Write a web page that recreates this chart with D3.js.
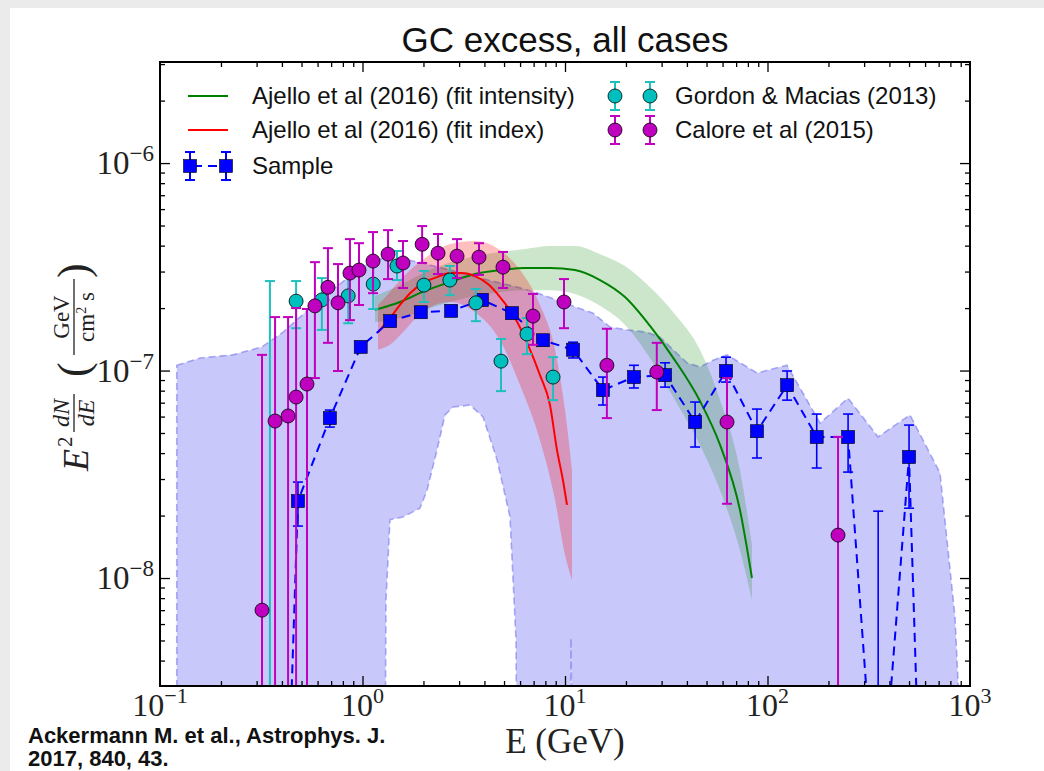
<!DOCTYPE html>
<html>
<head>
<meta charset="utf-8">
<script src="https://cdn.jsdelivr.net/npm/d3@7"></script>
<style>
  html, body { margin: 0; padding: 0; background: #ebebeb; }
  svg { display: block; }
</style>
</head>
<body>
<svg id="chart" width="1044" height="771"></svg>
<script>
// ---- Sample (Fermi-LAT GC excess) ----
const sampleE  = [0.34, 0.48, 0.69, 0.98, 1.37, 1.94, 2.74, 3.89, 5.47, 7.78, 10.96, 15.4, 21.9, 31.2, 43.9, 62.4, 88.7, 125, 175, 250, 352, 500, 703];
const sampleV  = [1e-12, 2.35e-8, 5.9e-8, 1.30e-7, 1.73e-7, 1.91e-7, 1.94e-7, 2.19e-7, 1.89e-7, 1.40e-7, 1.26e-7, 8.05e-8, 9.3e-8, 9.5e-8, 5.65e-8, 9.95e-8, 5.1e-8, 8.5e-8, 4.78e-8, 4.78e-8, 4.8e-10, 3.83e-8, 1e-12];
const sampleLo = [null, 1.78e-8, 5.34e-8, 1.24e-7, 1.65e-7, 1.83e-7, 1.86e-7, 2.09e-7, 1.80e-7, 1.33e-7, 1.15e-7, 6.82e-8, 8.24e-8, 8.32e-8, 4.28e-8, 8.8e-8, 3.79e-8, 7.2e-8, 3.39e-8, 3.24e-8, 1e-12, 2.17e-8, null];
const sampleHi = [null, 2.90e-8, 6.45e-8, 1.36e-7, 1.81e-7, 2.00e-7, 2.03e-7, 2.29e-7, 1.98e-7, 1.47e-7, 1.37e-7, 9.3e-8, 1.06e-7, 1.09e-7, 7.05e-8, 1.16e-7, 6.52e-8, 9.95e-8, 6.17e-8, 6.17e-8, 2.1e-8, 5.46e-8, null];

// ---- Calore et al (2015) ----
const caloreE  = [0.319, 0.370, 0.429, 0.470, 0.532, 0.582, 0.675, 0.757, 0.867, 0.961, 1.127, 1.337, 1.585, 1.97, 2.36, 2.93, 3.76, 4.94, 6.95, 9.89, 16.1, 28.4, 63.1, 223];
const caloreV  = [7.0e-9, 5.71e-8, 6.04e-8, 7.45e-8, 8.61e-8, 2.05e-7, 2.52e-7, 2.12e-7, 2.95e-7, 3.05e-7, 3.37e-7, 3.64e-7, 3.30e-7, 4.06e-7, 3.68e-7, 3.56e-7, 3.52e-7, 3.15e-7, 1.83e-7, 2.14e-7, 1.06e-7, 9.84e-8, 5.65e-8, 1.61e-8];
const caloreLo = [1e-10, 1e-10, 1e-10, 1e-10, 1e-10, 9.2e-8, 1.36e-7, 9.95e-8, 1.75e-7, 2.07e-7, 2.36e-7, 2.76e-7, 2.50e-7, 3.30e-7, 2.92e-7, 2.79e-7, 2.89e-7, 2.50e-7, 1.33e-7, 1.60e-7, 5.9e-8, 6.45e-8, 2.28e-8, 1e-10];
const caloreHi = [1.19e-7, 1.81e-7, 1.81e-7, 2.00e-7, 1.98e-7, 3.33e-7, 3.89e-7, 3.26e-7, 4.30e-7, 4.11e-7, 4.65e-7, 4.75e-7, 4.21e-7, 4.97e-7, 4.55e-7, 4.30e-7, 4.11e-7, 3.73e-7, 2.34e-7, 2.76e-7, 1.59e-7, 1.36e-7, 9.2e-8, 4.79e-8];

// ---- Gordon & Macias (2013) ----
const gordonE  = [0.349, 0.47, 0.63, 0.85, 1.13, 1.48, 2.01, 2.70, 3.63, 4.83, 6.49, 8.73];
const gordonV  = [1.5e-9, 2.16e-7, 2.19e-7, 2.29e-7, 2.61e-7, 3.19e-7, 2.58e-7, 2.73e-7, 2.12e-7, 1.11e-7, 1.50e-7, 9.3e-8];
const gordonLo = [1e-10, 1.60e-7, 1.57e-7, 1.69e-7, 1.98e-7, 2.73e-7, 2.14e-7, 2.31e-7, 1.73e-7, 7.96e-8, 1.20e-7, 7.2e-8];
const gordonHi = [2.70e-7, 2.70e-7, 2.79e-7, 2.85e-7, 3.33e-7, 3.77e-7, 3.02e-7, 3.19e-7, 2.47e-7, 1.42e-7, 1.79e-7, 1.16e-7];

// ---- Ajello et al (2016), fit intensity ----
const intensityE  = [1.153, 1.532, 2.035, 2.705, 3.594, 4.775, 6.345, 8.43, 11.2, 14.89, 19.78, 26.3, 34.9, 46.4, 58.3, 73.1, 83.8];
const intensityV  = [1.96e-7, 2.14e-7, 2.42e-7, 2.67e-7, 2.92e-7, 3.05e-7, 3.12e-7, 3.12e-7, 3.05e-7, 2.73e-7, 2.26e-7, 1.64e-7, 1.12e-7, 7.13e-8, 4.38e-8, 2.13e-8, 1.0e-8];
const intensityHi = [2.29e-7, 2.58e-7, 2.98e-7, 3.33e-7, 3.56e-7, 3.73e-7, 3.85e-7, 3.98e-7, 3.98e-7, 3.64e-7, 3.19e-7, 2.52e-7, 1.87e-7, 1.26e-7, 7.21e-8, 3.31e-8, 1.44e-8];
const intensityLo = [1.71e-7, 1.79e-7, 1.96e-7, 2.14e-7, 2.29e-7, 2.39e-7, 2.44e-7, 2.44e-7, 2.34e-7, 2.05e-7, 1.66e-7, 1.15e-7, 7.21e-8, 4.38e-8, 2.65e-8, 1.36e-8, 7.84e-9];

// ---- Ajello et al (2016), fit index ----
const indexE = [1.192, 1.367, 1.532, 1.717, 2.035, 2.333, 2.705, 3.100, 3.594, 4.166, 4.775, 5.664, 6.566, 7.524, 8.43, 9.13, 9.77, 10.23];
const indexV = [1.53e-7, 1.79e-7, 2.07e-7, 2.36e-7, 2.67e-7, 2.82e-7, 2.95e-7, 2.95e-7, 2.85e-7, 2.61e-7, 2.26e-7, 1.79e-7, 1.33e-7, 9.5e-8, 6.82e-8, 4.14e-8, 2.96e-8, 2.25e-8];
const indexBandE  = [1.192, 1.367, 1.532, 2.035, 2.705, 3.594, 4.775, 5.997, 7.524, 8.93, 10.0, 10.83];
const indexBandHi = [2.07e-7, 2.39e-7, 2.73e-7, 3.48e-7, 4.07e-7, 4.21e-7, 3.81e-7, 3.05e-7, 2.07e-7, 1.26e-7, 6.45e-8, 3.31e-8];
const indexBandLo = [1.26e-7, 1.33e-7, 1.48e-7, 1.96e-7, 2.14e-7, 1.91e-7, 1.40e-7, 8.51e-8, 4.62e-8, 2.38e-8, 1.29e-8, 9.77e-9];

// ---- Sample envelope (upper and lower edges) ----
const envUpE = [0.121, 0.158, 0.229, 0.319, 0.405, 0.491, 0.638, 0.820, 1.03, 1.26, 1.53, 1.97, 2.70, 3.80, 5.86, 7.36, 10.0, 13.75, 16.7, 20.2, 25.4, 29.4, 40.0, 46.4, 53.8, 63.1, 88.8, 124.8, 181.7, 249.8, 351.4, 505.5, 711, 770, 843, 923];
const envUpV = [1.06e-7, 1.15e-7, 1.19e-7, 1.30e-7, 1.53e-7, 1.81e-7, 2.26e-7, 2.73e-7, 3.22e-7, 3.48e-7, 3.48e-7, 3.30e-7, 3.05e-7, 2.79e-7, 2.52e-7, 2.36e-7, 2.11e-7, 1.89e-7, 1.62e-7, 1.57e-7, 1.53e-7, 1.45e-7, 1.09e-7, 1.04e-7, 1.12e-7, 1.19e-7, 9.73e-8, 1.06e-7, 5.58e-8, 7.36e-8, 4.79e-8, 6.11e-8, 3.21e-8, 1.52e-8, 6.48e-9, 1e-9];
const envLoE = [0.121, 1.277, 1.306, 1.367, 1.585, 1.923, 2.083, 2.333, 2.555, 2.798, 3.40, 3.94, 4.62, 5.35, 5.73, 5.86, 10.47, 10.7, 11.2, 923];
const envLoV = [1e-10, 1e-10, 7.84e-9, 1.91e-8, 1.97e-8, 2.17e-8, 2.65e-8, 4.14e-8, 6.11e-8, 6.67e-8, 6.82e-8, 5.97e-8, 3.71e-8, 1.97e-8, 5.02e-9, 1e-10, 1e-10, 5.14e-9, 1e-10, 1e-10];

// ---- Axes ----
const xMajor = [0.1, 1, 10, 100, 1000];
const xMajorExp = ["−1", "0", "1", "2", "3"];
const yMajor = [1e-8, 1e-7, 1e-6];
const yMajorExp = ["−8", "−7", "−6"];

const W = 1044, H = 771;
const plot = { left: 160, right: 970, top: 62, bottom: 686 };

const svg = d3.select("#chart");
svg.append("rect").attr("x", 10).attr("y", 8).attr("width", W - 10).attr("height", H - 8).attr("fill", "#ffffff");

const x = d3.scaleLog().domain([0.1, 1000]).range([plot.left, plot.right]);
const y = d3.scaleLog().domain([3.017e-9, 3.07e-6]).range([plot.bottom, plot.top]);

svg.append("defs").append("clipPath").attr("id", "plotArea")
  .append("rect").attr("x", plot.left).attr("y", plot.top)
  .attr("width", plot.right - plot.left).attr("height", plot.bottom - plot.top);

const g = svg.append("g").attr("clip-path", "url(#plotArea)");

const zip2 = (a, b) => a.map((d, i) => [d, b[i]]);

// envelope
const envPoly = zip2(envUpE, envUpV).concat(zip2(envLoE, envLoV).reverse());
g.append("path")
  .datum(envPoly)
  .attr("d", d3.line().x(d => x(d[0])).y(d => y(d[1])).curve(d3.curveLinearClosed))
  .attr("fill", "rgb(200,200,250)")
  .attr("stroke", "rgba(110,110,235,0.55)")
  .attr("stroke-width", 1.6)
  .attr("stroke-dasharray", "7,4");

// fit bands
const band = d3.area().x(d => x(d[0])).y0(d => y(d[1])).y1(d => y(d[2])).curve(d3.curveMonotoneX);
g.append("path")
  .datum(intensityE.map((e, i) => [e, intensityLo[i], intensityHi[i]]))
  .attr("d", band).attr("fill", "rgb(0,128,0)").attr("fill-opacity", 0.2);
g.append("path")
  .datum(indexBandE.map((e, i) => [e, indexBandLo[i], indexBandHi[i]]))
  .attr("d", band).attr("fill", "rgb(255,0,0)").attr("fill-opacity", 0.25);

const curve = d3.line().x(d => x(d[0])).y(d => y(d[1])).curve(d3.curveMonotoneX);
g.append("path").datum(zip2(intensityE, intensityV)).attr("d", curve)
  .attr("fill", "none").attr("stroke", "#008000").attr("stroke-width", 2);
g.append("path").datum(zip2(indexE, indexV)).attr("d", curve)
  .attr("fill", "none").attr("stroke", "#ff0000").attr("stroke-width", 2);

// error bar helper
function errorBars(E, lo, hi, color, width) {
  const rows = E.map((e, i) => ({ e, lo: lo[i], hi: hi[i] })).filter(d => d.lo !== null);
  const eb = g.append("g").attr("stroke", color).attr("stroke-width", width);
  eb.selectAll("line.v").data(rows).join("line")
    .attr("x1", d => x(d.e)).attr("x2", d => x(d.e))
    .attr("y1", d => y(d.lo)).attr("y2", d => y(d.hi));
  const caps = rows.flatMap(d => [[d.e, d.lo], [d.e, d.hi]]);
  eb.selectAll("line.c").data(caps).join("line")
    .attr("x1", d => x(d[0]) - 5).attr("x2", d => x(d[0]) + 5)
    .attr("y1", d => y(d[1])).attr("y2", d => y(d[1]));
}

// sample
g.append("path").datum(zip2(sampleE, sampleV))
  .attr("d", d3.line().x(d => x(d[0])).y(d => y(d[1])))
  .attr("fill", "none").attr("stroke", "#0000ff").attr("stroke-width", 2)
  .attr("stroke-dasharray", "9,6");
errorBars(sampleE, sampleLo, sampleHi, "#0000ff", 1.6);
g.append("g").selectAll("rect").data(zip2(sampleE, sampleV)).join("rect")
  .attr("x", d => x(d[0]) - 6.5).attr("y", d => y(d[1]) - 6.5)
  .attr("width", 13).attr("height", 13)
  .attr("fill", "#0000ff").attr("stroke", "#000").attr("stroke-width", 0.6);

// Gordon & Macias
errorBars(gordonE, gordonLo, gordonHi, "#20bfbf", 2);
g.append("g").selectAll("circle").data(zip2(gordonE, gordonV)).join("circle")
  .attr("cx", d => x(d[0])).attr("cy", d => y(d[1])).attr("r", 7)
  .attr("fill", "#00bfbf").attr("stroke", "#000").attr("stroke-width", 0.8);

// Calore
errorBars(caloreE, caloreLo, caloreHi, "#bf00bf", 2);
g.append("g").selectAll("circle").data(zip2(caloreE, caloreV)).join("circle")
  .attr("cx", d => x(d[0])).attr("cy", d => y(d[1])).attr("r", 7)
  .attr("fill", "#bf00bf").attr("stroke", "#000").attr("stroke-width", 0.8);

// ---- axes: ticks point inward on all four sides ----
const minorOf = (lo, hi) => {
  const out = [];
  for (let k = Math.floor(Math.log10(lo)); k <= Math.ceil(Math.log10(hi)); k++)
    for (let m = 2; m <= 9; m++) { const v = m * Math.pow(10, k); if (v > lo && v < hi) out.push(v); }
  return out;
};
const xMinor = minorOf(0.1, 1000);
const yMinor = minorOf(3.017e-9, 3.07e-6);

function axisPair(axisFn, scale, t, majors, minors) {
  const a = svg.append("g").attr("transform", t);
  a.call(axisFn(scale).tickValues(minors).tickSize(-5).tickSizeOuter(0).tickFormat(""));
  a.append("g").call(axisFn(scale).tickValues(majors).tickSize(-10).tickSizeOuter(0).tickFormat(""));
  a.selectAll("path.domain").remove();
  a.selectAll("line").attr("stroke", "#000").attr("stroke-width", 1.3);
}
axisPair(d3.axisBottom, x, `translate(0,${plot.bottom})`, xMajor.slice(1, -1), xMinor);
axisPair(d3.axisTop, x, `translate(0,${plot.top})`, xMajor.slice(1, -1), xMinor);
axisPair(d3.axisLeft, y, `translate(${plot.left},0)`, yMajor, yMinor);
axisPair(d3.axisRight, y, `translate(${plot.right},0)`, yMajor, yMinor);

svg.append("rect").attr("x", plot.left).attr("y", plot.top)
  .attr("width", plot.right - plot.left).attr("height", plot.bottom - plot.top)
  .attr("fill", "none").attr("stroke", "#000").attr("stroke-width", 2);

const serif = "'Liberation Serif', 'Times New Roman', serif";
const sans = "'Liberation Sans', Arial, sans-serif";

// tick labels
xMajor.forEach((v, i) => {
  const t = svg.append("text").attr("x", x(v)).attr("y", 716)
    .attr("text-anchor", "middle").attr("font-family", serif).attr("font-size", 32).attr("fill", "#222");
  t.append("tspan").text("10");
  t.append("tspan").attr("dy", -13).attr("font-size", 22).text(xMajorExp[i]);
});
yMajor.forEach((v, i) => {
  const t = svg.append("text").attr("x", 154).attr("y", y(v) + 11)
    .attr("text-anchor", "end").attr("font-family", serif).attr("font-size", 33).attr("fill", "#222");
  t.append("tspan").text("10");
  t.append("tspan").attr("dy", -13).attr("font-size", 23).text(yMajorExp[i]);
});

// title and axis labels
svg.append("text").attr("x", 565).attr("y", 52).attr("text-anchor", "middle")
  .attr("font-family", sans).attr("font-size", 35).attr("fill", "#111").text("GC excess, all cases");
svg.append("text").attr("x", 565).attr("y", 753).attr("text-anchor", "middle")
  .attr("font-family", serif).attr("font-size", 35).attr("fill", "#222").text("E (GeV)");

// y label: E^2 dN/dE (GeV / cm^2 s), rotated
const yl = svg.append("g").attr("transform", "translate(74,365) rotate(-90)")
  .attr("font-family", serif).attr("fill", "#222");
yl.append("text").attr("x", -106).attr("y", 14).attr("font-size", 36).attr("font-style", "italic").text("E");
yl.append("text").attr("x", -82).attr("y", -2).attr("font-size", 21).text("2");
yl.append("text").attr("x", -48).attr("y", -5).attr("text-anchor", "middle").attr("font-size", 24).attr("font-style", "italic").text("dN");
yl.append("line").attr("x1", -67).attr("x2", -29).attr("y1", 0).attr("y2", 0).attr("stroke", "#222").attr("stroke-width", 1.3);
yl.append("text").attr("x", -48).attr("y", 20).attr("text-anchor", "middle").attr("font-size", 24).attr("font-style", "italic").text("dE");
yl.append("text").attr("x", -12).attr("y", 14).attr("font-size", 44).text("(");
yl.append("text").attr("x", 48).attr("y", -5).attr("text-anchor", "middle").attr("font-size", 23).text("GeV");
yl.append("line").attr("x1", 10).attr("x2", 86).attr("y1", 0).attr("y2", 0).attr("stroke", "#222").attr("stroke-width", 1.3);
const den = yl.append("text").attr("x", 48).attr("y", 20).attr("text-anchor", "middle").attr("font-size", 23);
den.append("tspan").text("cm");
den.append("tspan").attr("dy", -8).attr("font-size", 14).text("2");
den.append("tspan").attr("dy", 8).text(" s");
yl.append("text").attr("x", 87).attr("y", 14).attr("font-size", 44).text(")");

// ---- legend ----
const leg = svg.append("g").attr("font-family", sans).attr("font-size", 24).attr("fill", "#111");
leg.append("line").attr("x1", 188).attr("x2", 228).attr("y1", 96).attr("y2", 96).attr("stroke", "#008000").attr("stroke-width", 2);
leg.append("text").attr("x", 252).attr("y", 104).text("Ajello et al (2016) (fit intensity)");
leg.append("line").attr("x1", 188).attr("x2", 228).attr("y1", 130).attr("y2", 130).attr("stroke", "#ff0000").attr("stroke-width", 2);
leg.append("text").attr("x", 252).attr("y", 138).text("Ajello et al (2016) (fit index)");
leg.append("text").attr("x", 252).attr("y", 174).text("Sample");
leg.append("text").attr("x", 675).attr("y", 104).text("Gordon & Macias (2013)");
leg.append("text").attr("x", 675).attr("y", 138).text("Calore et al (2015)");

function legendMarker(cx, cy, color, barColor, shape) {
  const m = leg.append("g").attr("stroke", barColor).attr("stroke-width", 2);
  m.append("line").attr("x1", cx).attr("x2", cx).attr("y1", cy - 14).attr("y2", cy + 14);
  m.append("line").attr("x1", cx - 5).attr("x2", cx + 5).attr("y1", cy - 14).attr("y2", cy - 14);
  m.append("line").attr("x1", cx - 5).attr("x2", cx + 5).attr("y1", cy + 14).attr("y2", cy + 14);
  if (shape === "square") {
    leg.append("rect").attr("x", cx - 6.5).attr("y", cy - 6.5).attr("width", 13).attr("height", 13)
      .attr("fill", color).attr("stroke", "#000").attr("stroke-width", 0.6);
  } else {
    leg.append("circle").attr("cx", cx).attr("cy", cy).attr("r", 7)
      .attr("fill", color).attr("stroke", "#000").attr("stroke-width", 0.8);
  }
}
leg.append("line").attr("x1", 190).attr("x2", 226).attr("y1", 166).attr("y2", 166)
  .attr("stroke", "#0000ff").attr("stroke-width", 2).attr("stroke-dasharray", "9,6").attr("stroke-dashoffset", -3);
legendMarker(190, 166, "#0000ff", "#0000ff", "square");
legendMarker(226, 166, "#0000ff", "#0000ff", "square");
legendMarker(615, 96, "#00bfbf", "#20bfbf", "circle");
legendMarker(650, 96, "#00bfbf", "#20bfbf", "circle");
legendMarker(615, 130, "#bf00bf", "#bf00bf", "circle");
legendMarker(650, 130, "#bf00bf", "#bf00bf", "circle");

// citation
const cite = svg.append("text").attr("font-family", sans).attr("font-weight", "bold")
  .attr("font-size", 22).attr("fill", "#111");
cite.append("tspan").attr("x", 28).attr("y", 743).text("Ackermann M. et al., Astrophys. J.");
cite.append("tspan").attr("x", 28).attr("y", 766).text("2017, 840, 43.");
</script>
</body>
</html>
